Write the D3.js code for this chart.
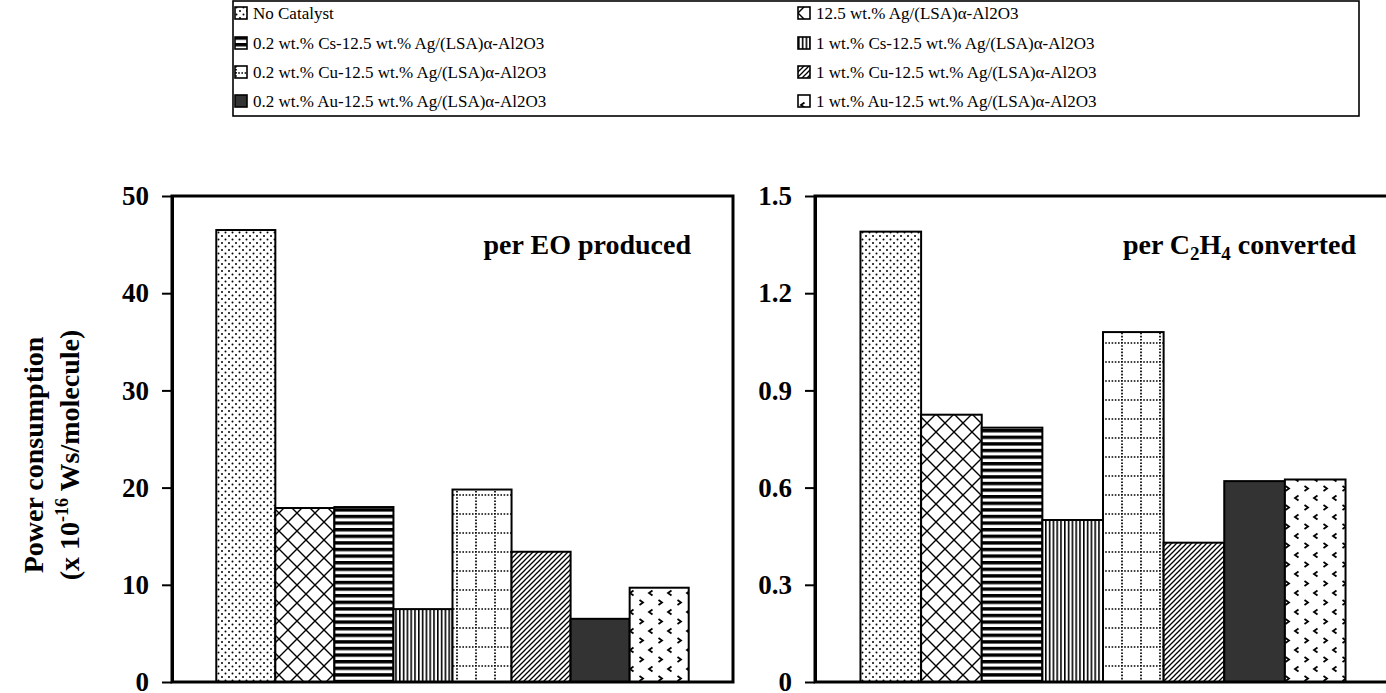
<!DOCTYPE html>
<html>
<head>
<meta charset="utf-8">
<script src="https://cdn.jsdelivr.net/npm/d3@7"></script>
<style>
  html, body { margin: 0; padding: 0; background: #fff; }
  svg { display: block; font-family: "Liberation Serif", "Times New Roman", serif; }
</style>
</head>
<body>
<svg id="chart" width="1386" height="693"></svg>
<script>
// Catalyst samples, in plotting order
const categories = [
  "No Catalyst",
  "12.5 wt.% Ag/(LSA)α-Al2O3",
  "0.2 wt.% Cs-12.5 wt.% Ag/(LSA)α-Al2O3",
  "1 wt.% Cs-12.5 wt.% Ag/(LSA)α-Al2O3",
  "0.2 wt.% Cu-12.5 wt.% Ag/(LSA)α-Al2O3",
  "1 wt.% Cu-12.5 wt.% Ag/(LSA)α-Al2O3",
  "0.2 wt.% Au-12.5 wt.% Ag/(LSA)α-Al2O3",
  "1 wt.% Au-12.5 wt.% Ag/(LSA)α-Al2O3"
];

// Power consumption (x 10^-16 Ws/molecule)
const perEO = [46.5, 17.9, 18.0, 7.5, 19.8, 13.4, 6.5, 9.7];
const perC2H4 = [1.39, 0.825, 0.785, 0.50, 1.08, 0.43, 0.62, 0.625];

const eoTicks = [0, 10, 20, 30, 40, 50];
const c2h4Ticks = [0, 0.3, 0.6, 0.9, 1.2, 1.5];

const fillKeys = ["dots", "xhatch", "hstripe", "vstripe", "dotgrid", "diag", "solid", "chevron"];

const svg = d3.select("#chart");
const defs = svg.append("defs");

// ---- fill patterns ----
function pattern(id, w, h) {
  const p = defs.append("pattern").attr("id", id)
    .attr("patternUnits", "userSpaceOnUse").attr("width", w).attr("height", h);
  p.append("rect").attr("width", w).attr("height", h).attr("fill", "#fff");
  return p;
}
{
  const p = pattern("dots", 7, 7);
  p.append("circle").attr("cx", 1.5).attr("cy", 1.5).attr("r", 1).attr("fill", "#000");
  p.append("circle").attr("cx", 5).attr("cy", 5).attr("r", 1).attr("fill", "#000");
}
{
  const p = pattern("xhatch", 18, 18);
  p.append("path").attr("d", "M0,0L18,18M18,0L0,18M-9,9L0,18M9,-9L18,0M9,27L18,18")
    .attr("stroke", "#000").attr("stroke-width", 1.4).attr("fill", "none");
}
{
  const p = pattern("hstripe", 10, 6.6);
  p.append("rect").attr("y", 0).attr("width", 10).attr("height", 3.4).attr("fill", "#000");
}
{
  const p = pattern("vstripe", 3.8, 10);
  p.append("rect").attr("x", 0).attr("width", 1.6).attr("height", 10).attr("fill", "#000");
}
{
  const p = pattern("dotgrid", 19, 19);
  p.append("path").attr("d", "M0,1L19,1M1,0L1,19")
    .attr("stroke", "#000").attr("stroke-width", 1.7).attr("stroke-dasharray", "1.6,1.6").attr("fill", "none");
}
{
  const p = pattern("diag", 5, 5);
  p.append("path").attr("d", "M-1,6L6,-1M-1,1L1,-1M4,6L6,4")
    .attr("stroke", "#000").attr("stroke-width", 1.3).attr("fill", "none");
}
{
  const p = pattern("solid", 4, 4);
  p.select("rect").attr("fill", "#333");
}
{
  const p = pattern("chevron", 19, 19);
  p.append("path").attr("d", "M6.5,1.5L3,4L6.5,6.5M12.5,11L16,13.5L12.5,16")
    .attr("stroke", "#000").attr("stroke-width", 1.8).attr("fill", "none");
}

// ---- legend ----
const legendBox = { x: 233, y: 1, w: 1126, h: 115 };
svg.append("rect")
  .attr("x", legendBox.x).attr("y", legendBox.y)
  .attr("width", legendBox.w).attr("height", legendBox.h)
  .attr("fill", "#fff").attr("stroke", "#000").attr("stroke-width", 1.6);

const legendCols = [235, 798];
const legendRows = [13, 43, 72, 101];
const legend = svg.append("g");
categories.forEach((name, i) => {
  const col = i % 2, row = Math.floor(i / 2);
  const gx = legendCols[col], gy = legendRows[row];
  const g = legend.append("g").attr("transform", `translate(${gx},${gy})`);
  g.append("rect").attr("x", 0).attr("y", -6).attr("width", 12).attr("height", 12)
    .attr("fill", `url(#${fillKeys[i]})`).attr("stroke", "#000").attr("stroke-width", 1.6);
  g.append("text").attr("x", 18).attr("y", 0).attr("dy", "0.35em")
    .attr("font-size", 17).attr("fill", "#000").text(name);
});

// ---- panels ----
const plotTop = 196, plotBottom = 682;

function panel(opts) {
  const x = d3.scaleBand().domain(categories)
    .range([opts.x0, opts.x1]).paddingInner(0).paddingOuter(0.75);
  const y = d3.scaleLinear().domain([0, opts.max]).range([plotBottom, plotTop]);
  const g = svg.append("g");

  g.selectAll("rect.bar").data(opts.values).join("rect")
    .attr("class", "bar")
    .attr("x", (d, i) => x(categories[i]))
    .attr("y", d => y(d))
    .attr("width", x.bandwidth())
    .attr("height", d => y(0) - y(d))
    .attr("fill", (d, i) => `url(#${fillKeys[i]})`)
    .attr("stroke", "#000").attr("stroke-width", 2);

  // plot frame
  g.append("rect")
    .attr("x", opts.x0).attr("y", plotTop)
    .attr("width", opts.x1 - opts.x0).attr("height", plotBottom - plotTop)
    .attr("fill", "none").attr("stroke", "#000").attr("stroke-width", 3);

  const axis = d3.axisLeft(y).tickValues(opts.ticks).tickSize(10).tickSizeOuter(0)
    .tickPadding(13).tickFormat(opts.format);
  const ag = g.append("g").attr("transform", `translate(${opts.x0},0)`).call(axis);
  ag.select(".domain").attr("stroke-width", 3);
  ag.selectAll(".tick line").attr("stroke-width", 2);
  ag.selectAll(".tick text")
    .attr("font-family", "Liberation Serif, Times New Roman, serif")
    .attr("font-size", 27).attr("font-weight", "bold").attr("fill", "#000");

  // panel title
  const t = g.append("text").attr("x", opts.titleX).attr("y", 254)
    .attr("text-anchor", "end").attr("font-size", 28).attr("font-weight", "bold");
  opts.title(t);
}

panel({
  x0: 172, x1: 733, max: 50, values: perEO, ticks: eoTicks,
  format: d3.format("d"), titleX: 691,
  title: t => t.text("per EO produced")
});

panel({
  x0: 815, x1: 1391, max: 1.5, values: perC2H4, ticks: c2h4Ticks,
  format: d => d === 0 ? "0" : d3.format(".1f")(d), titleX: 1356,
  title: t => {
    t.append("tspan").text("per C");
    t.append("tspan").attr("font-size", 19).attr("dy", 6).text("2");
    t.append("tspan").attr("dy", -6).text("H");
    t.append("tspan").attr("font-size", 19).attr("dy", 6).text("4");
    t.append("tspan").attr("dy", -6).text(" converted");
  }
});

// ---- y-axis title ----
const yTitle = svg.append("g").attr("font-weight", "bold").attr("font-size", 28);
yTitle.append("text")
  .attr("transform", "translate(43,455) rotate(-90)")
  .attr("text-anchor", "middle").text("Power consumption");
const line2 = yTitle.append("text")
  .attr("transform", "translate(79,455) rotate(-90)")
  .attr("text-anchor", "middle");
line2.append("tspan").text("(x 10");
line2.append("tspan").attr("font-size", 18).attr("dy", -11).text("-16");
line2.append("tspan").attr("dy", 11).text(" Ws/molecule)");
</script>
</body>
</html>
